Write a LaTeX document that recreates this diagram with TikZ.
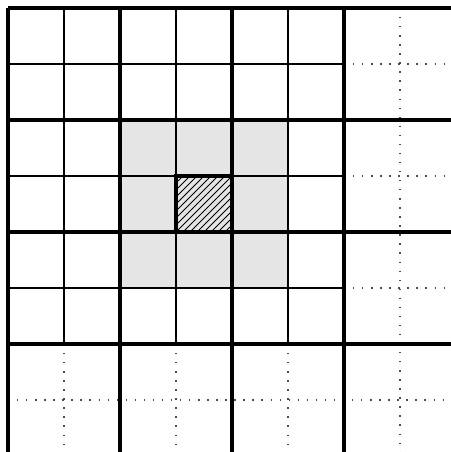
\documentclass[tikz,border=0pt]{standalone}
\begin{document}
\begin{tikzpicture}[x=1cm,y=-1cm,
  thinline/.style={line width=0.65pt,black},
  thickline/.style={line width=1.55pt,black},
  dotline/.style={line width=0.7pt,black!70,dash pattern=on 0.7pt off 3.9pt},
  hatchline/.style={line width=0.45pt,black}]
\useasboundingbox (-0.142857,-0.142857) rectangle (7.910714,7.928571);
\clip (-0.142857,-0.142857) rectangle (7.910714,7.928571);
% gray neighbourhood
\fill[black!10] (2,2) rectangle (5,5);
% hatched centre cell
\begin{scope}
  \clip (3,3) rectangle (4,4);
  \foreach \k in {-8,...,8} {
    \draw[hatchline] (3+\k*0.125,4) -- (4+\k*0.125,3);
  }
\end{scope}
% thin solid lines
\foreach \i in {1,3,5} {
  \draw[thinline] (\i,0) -- (\i,6);
  \draw[thinline] (0,\i) -- (6,\i);
}
% dotted lines
\draw[dotline] (7,0) -- (7,8);
\draw[dotline] (0,7) -- (8,7);
\foreach \i in {1,3,5} {
  \draw[dotline] (\i,6) -- (\i,8);
  \draw[dotline] (6,\i) -- (8,\i);
}
% thick lines
\foreach \i in {0,2,4,6} {
  \draw[thickline] (\i,0) -- (\i,8);
  \draw[thickline] (0,\i) -- (8,\i);
}
% centre cell border
\draw[thickline] (3,3) rectangle (4,4);
\end{tikzpicture}
\end{document}
